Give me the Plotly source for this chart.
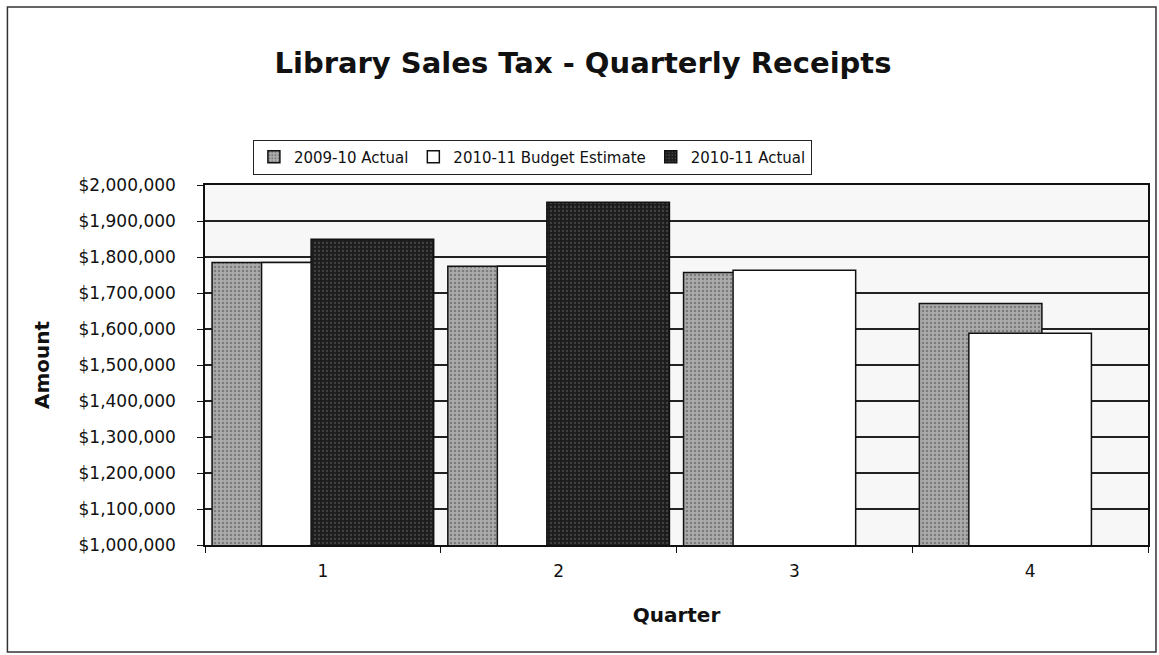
import plotly.graph_objects as go

quarters = ["1", "2", "3", "4"]
actual_0910 = [1785000, 1774000, 1757000, 1671000]
budget_1011 = [1785000, 1774000, 1763000, 1588000]
actual_1011 = [1849000, 1952000, None, None]

series_names = ["2009-10 Actual", "2010-11 Budget Estimate", "2010-11 Actual"]
y_ticks = [1000000 + 100000 * i for i in range(11)]

FONT = "DejaVu Sans, Liberation Sans, Arial, sans-serif"
W, H = 1159, 655
L, R, T, B = 205, 9, 185, 110
pw, ph = W - L - R, H - T - B

def px_to_paper_x(px):
    return (px - L) / pw

def px_to_paper_y(py):
    return (H - B - py) / ph

bar_w = 0.52
fig = go.Figure()
fig.add_trace(go.Bar(
    x=quarters, y=actual_0910, name=series_names[0],
    width=bar_w, offset=-0.47,
    marker=dict(color="#9c9c9c", line=dict(color="#111", width=1.5),
                pattern=dict(shape=".", fgcolor="#4a4a4a", bgcolor="#ababab", size=4, solidity=0.3)),
))
fig.add_trace(go.Bar(
    x=quarters, y=budget_1011, name=series_names[1],
    width=bar_w, offset=-0.26,
    marker=dict(color="#ffffff", line=dict(color="#111", width=1.5)),
))
fig.add_trace(go.Bar(
    x=quarters, y=actual_1011, name=series_names[2],
    width=bar_w, offset=-0.05,
    marker=dict(color="#222222", line=dict(color="#111", width=1.5),
                pattern=dict(shape=".", fgcolor="#6a6a6a", bgcolor="#1c1c1c", size=4, solidity=0.25)),
))

fig.update_layout(
    width=W, height=H,
    margin=dict(l=L, r=R, t=T, b=B),
    barmode="overlay",
    paper_bgcolor="white",
    plot_bgcolor="#f7f7f7",
    font=dict(family=FONT, color="#111", size=17),
    title=dict(text="<b>Library Sales Tax - Quarterly Receipts</b>",
               x=583 / W, xanchor="center", y=1 - 63 / H, yanchor="middle",
               font=dict(size=29, family=FONT, color="#111")),
    legend=dict(orientation="h", x=px_to_paper_x(253), xanchor="left",
                y=px_to_paper_y(157), yanchor="middle",
                bordercolor="#222", borderwidth=1, bgcolor="white",
                font=dict(size=15, family=FONT), traceorder="normal",
                itemwidth=30),
    showlegend=True,
    xaxis=dict(
        type="category", range=[-0.5, 3.5], tickson="boundaries",
        ticks="outside", ticklen=6, tickcolor="#111",
        showline=True, linecolor="#111", linewidth=1.5, mirror=True,
        showgrid=False, ticklabelstandoff=10,
        tickfont=dict(size=17, family=FONT),
        title=dict(text="<b>Quarter</b>", font=dict(size=20, family=FONT), standoff=28),
    ),
    yaxis=dict(
        range=[1000000, 2000000], tickvals=y_ticks, tickformat="$,d",
        ticks="outside", ticklen=6, tickcolor="#111",
        showline=True, linecolor="#111", linewidth=1.5, mirror=True,
        showgrid=True, gridcolor="#222", gridwidth=1.5,
        ticklabelstandoff=18,
        tickfont=dict(size=17, family=FONT),
        title=dict(text="<b>Amount</b>", font=dict(size=20, family=FONT), standoff=24),
    ),
    shapes=[dict(type="rect", xref="paper", yref="paper",
                 x0=px_to_paper_x(7), x1=px_to_paper_x(1158),
                 y0=px_to_paper_y(652), y1=px_to_paper_y(7),
                 line=dict(color="#333", width=1.5), fillcolor="rgba(0,0,0,0)", layer="below")],
)

fig.write_html("out.html", config={"displayModeBar": False},
               post_script="document.body.style.margin='0';")
